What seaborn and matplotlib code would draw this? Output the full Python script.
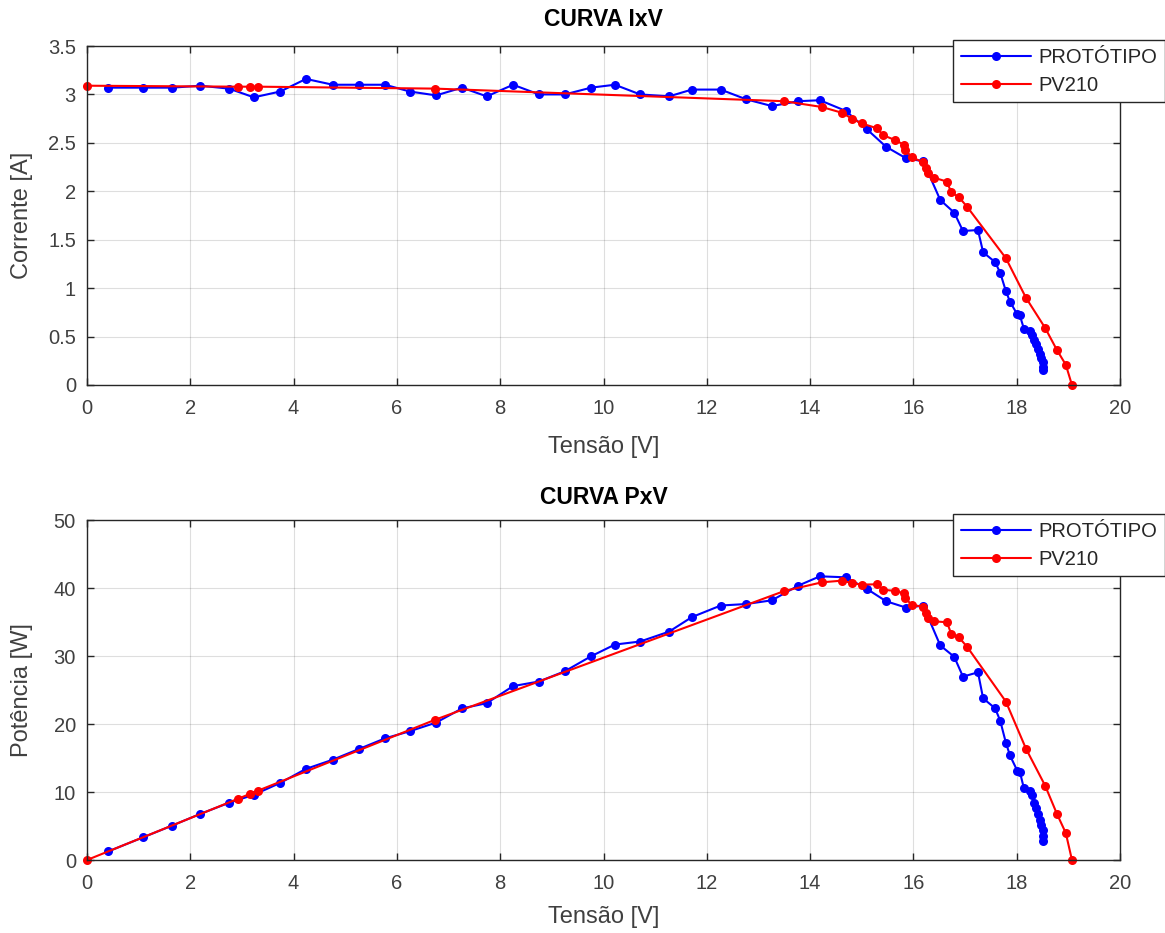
import matplotlib
matplotlib.use("Agg")
import matplotlib.pyplot as plt
import seaborn as sns
import numpy as np
import pandas as pd

# ---- data ----
prot_v = [0.41, 1.08, 1.65, 2.19, 2.75, 3.23, 3.74, 4.24, 4.76, 5.27, 5.77, 6.25, 6.76,
          7.26, 7.74, 8.25, 8.75, 9.25, 9.76, 10.22, 10.71, 11.27, 11.71, 12.27, 12.76,
          13.26, 13.77, 14.19, 14.69, 15.10, 15.47, 15.86, 16.19, 16.52, 16.79, 16.96,
          17.25, 17.35, 17.58, 17.68, 17.79, 17.87, 18.01, 18.06, 18.14, 18.25, 18.30,
          18.33, 18.38, 18.42, 18.45, 18.48, 18.50, 18.50, 18.50]
prot_i = [3.07, 3.07, 3.07, 3.09, 3.06, 2.97, 3.03, 3.16, 3.10, 3.10, 3.10, 3.03, 2.99,
          3.07, 2.98, 3.10, 3.00, 3.00, 3.07, 3.10, 3.00, 2.98, 3.05, 3.05, 2.95,
          2.88, 2.93, 2.94, 2.83, 2.64, 2.46, 2.34, 2.31, 1.91, 1.78, 1.59,
          1.60, 1.37, 1.27, 1.16, 0.97, 0.86, 0.73, 0.72, 0.58, 0.56, 0.52,
          0.46, 0.42, 0.37, 0.32, 0.28, 0.24, 0.19, 0.15]

pv_v = [0.00, 2.92, 3.16, 3.31, 6.74, 13.50, 14.23, 14.62, 14.81, 15.00, 15.30, 15.41,
        15.64, 15.82, 15.84, 15.97, 16.19, 16.24, 16.28, 16.40, 16.65, 16.73, 16.88,
        17.04, 17.79, 18.18, 18.55, 18.78, 18.95, 19.07]
pv_i = [3.09, 3.08, 3.08, 3.08, 3.06, 2.93, 2.87, 2.81, 2.75, 2.70, 2.65, 2.58,
        2.53, 2.48, 2.43, 2.35, 2.30, 2.24, 2.19, 2.14, 2.10, 1.99, 1.94,
        1.84, 1.31, 0.90, 0.59, 0.36, 0.21, 0.00]

# power = voltage * current (the PxV curve of the same measurements)
prot_p = [v * i for v, i in zip(prot_v, prot_i)]
pv_p = [v * i for v, i in zip(pv_v, pv_i)]

series_names = ["PROTÓTIPO", "PV210"]
series_colors = ["#0000ff", "#ff0000"]
x_ticks = list(range(0, 21, 2))
iv_ticks = [0, 0.5, 1, 1.5, 2, 2.5, 3, 3.5]
iv_labels = ["0", "0.5", "1", "1.5", "2", "2.5", "3", "3.5"]
pv_ticks = [0, 10, 20, 30, 40, 50]

sns.set_theme(style="white")
plt.rcParams["font.family"] = ["Liberation Sans", "DejaVu Sans"]

fig = plt.figure(figsize=(11.65, 9.33), dpi=100)
W, H = 1165, 933
ax1 = fig.add_axes([87 / W, 1 - 385 / H, 1033 / W, 339 / H])
ax2 = fig.add_axes([87 / W, 1 - 860 / H, 1033 / W, 340 / H])

df_iv = pd.DataFrame({
    "V": prot_v + pv_v,
    "Y": prot_i + pv_i,
    "serie": [series_names[0]] * len(prot_v) + [series_names[1]] * len(pv_v),
})
df_pv = pd.DataFrame({
    "V": prot_v + pv_v,
    "Y": prot_p + pv_p,
    "serie": [series_names[0]] * len(prot_v) + [series_names[1]] * len(pv_v),
})

tick_col = "#262626"
lab_col = "#404040"
# (axes, data, yticks, ylabels, ylim, title, ylabel, legend top px, title offset px, xlabel offset px, axes height px)
cfg = [
    (ax1, df_iv, iv_ticks, iv_labels, (0, 3.5), "CURVA IxV", "Corrente [A]", 40, 26, 62, 339),
    (ax2, df_pv, pv_ticks, [str(t) for t in pv_ticks], (0, 50), "CURVA PxV", "Potência [W]", 514, 23, 57, 340),
]
for ax, df, yt, yl, ylim, title, ylabel, legtop, toff, xoff, hpx in cfg:
    sns.lineplot(data=df, x="V", y="Y", hue="serie", hue_order=series_names,
                 palette=series_colors, sort=False, estimator=None, marker="o",
                 markersize=6.5, markeredgewidth=0, linewidth=1.5, ax=ax, legend=True)
    ax.set_xlim(0, 20)
    ax.set_ylim(*ylim)
    ax.set_xticks(x_ticks)
    ax.set_xticklabels([str(t) for t in x_ticks])
    ax.set_yticks(yt)
    ax.set_yticklabels(yl)
    ax.grid(True, color="#000000", alpha=0.13, linewidth=0.8)
    ax.tick_params(direction="in", length=5, width=1, colors=tick_col,
                   labelsize=14.5, top=True, right=True, left=True, bottom=True,
                   labelcolor=lab_col)
    ax.tick_params(axis="x", pad=10)
    ax.tick_params(axis="y", pad=8)
    for s in ax.spines.values():
        s.set_color(tick_col)
        s.set_linewidth(1.0)
    for line in ax.lines:
        line.set_clip_on(False)
    ax.text(0.5, 1 + toff / hpx, title, transform=ax.transAxes, ha="center",
            va="center", fontsize=16.5, fontweight="bold", color="black")
    ax.set_xlabel("Tensão [V]", fontsize=17, color=lab_col)
    ax.xaxis.set_label_coords(0.5, -xoff / hpx)
    ax.xaxis.label.set_va("center")
    ax.set_ylabel(ylabel, fontsize=17, color=lab_col)
    ax.yaxis.set_label_coords((22 - 87) / 1033, 0.5)
    ax.yaxis.label.set_va("center")
    handles, labels = ax.get_legend_handles_labels()
    leg = ax.legend(handles, labels, loc="upper left",
                    bbox_to_anchor=(953 / W, 1 - legtop / H), bbox_transform=fig.transFigure,
                    frameon=True, fancybox=False, edgecolor="#262626", fontsize=14.5,
                    handlelength=3.5, borderpad=0.38, labelspacing=0.45, handletextpad=0.35,
                    borderaxespad=0)
    leg.get_frame().set_linewidth(1.0)
    leg.get_frame().set_alpha(1)
    for t in leg.get_texts():
        t.set_color("#262626")

fig.savefig("out.png", dpi=100, facecolor="white")
